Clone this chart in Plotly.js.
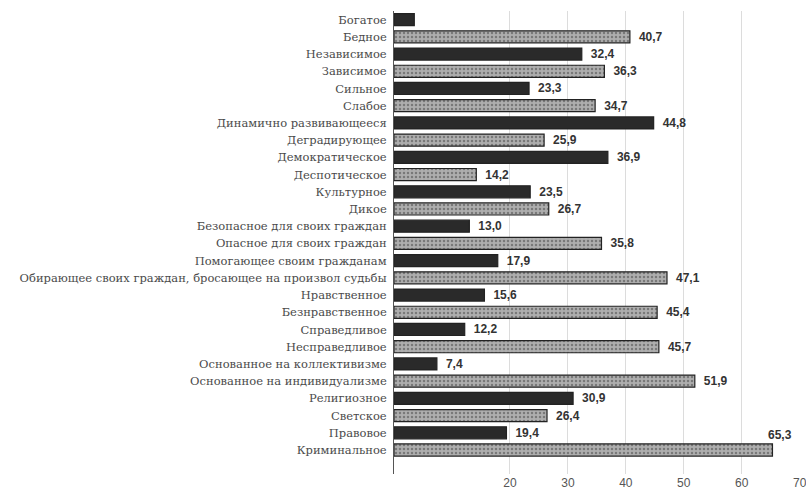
<!DOCTYPE html>
<html><head><meta charset="utf-8">
<script src="https://cdn.plot.ly/plotly-3.0.1.min.js"></script>
<style>html,body{margin:0;padding:0;background:#fff}#chart{width:806px;height:494px}</style>
</head><body><div id="chart"></div>
<script>
const categories = [
  "Богатое","Бедное","Независимое","Зависимое","Сильное","Слабое",
  "Динамично развивающееся","Деградирующее","Демократическое","Деспотическое",
  "Культурное","Дикое","Безопасное для своих граждан","Опасное для своих граждан",
  "Помогающее своим гражданам","Обирающее своих граждан, бросающее на произвол судьбы",
  "Нравственное","Безнравственное","Справедливое","Несправедливое",
  "Основанное на коллективизме","Основанное на индивидуализме",
  "Религиозное","Светское","Правовое","Криминальное"
];
const values = [3.5,40.7,32.4,36.3,23.3,34.7,44.8,25.9,36.9,14.2,23.5,26.7,13.0,35.8,17.9,47.1,15.6,45.4,12.2,45.7,7.4,51.9,30.9,26.4,19.4,65.3];
const valueLabels = ["","40,7","32,4","36,3","23,3","34,7","44,8","25,9","36,9","14,2","23,5","26,7","13,0","35,8","17,9","47,1","15,6","45,4","12,2","45,7","7,4","51,9","30,9","26,4","19,4",""];
const lastLabel = "65,3";
const tickVals = [20,30,40,50,60,70];

const colors = categories.map((c,i)=> i%2===0 ? '#2a2a2a' : '#aeaeae');
const shapes = categories.map((c,i)=> i%2===0 ? '' : '.');

const trace = {
  type:'bar', orientation:'h',
  y: categories, x: values,
  text: valueLabels, texttemplate:'\u2002%{text}', textposition:'outside', cliponaxis:false,
  constraintext:'none',
  textfont:{family:'Liberation Sans, Arial, sans-serif', size:12, color:'#333', weight:'bold'},
  marker:{color:colors, line:{color:'#222', width:1.2},
    pattern:{shape:shapes, fillmode:'overlay', fgcolor:'#dcdcdc', size:4, solidity:0.3}},
  hoverinfo:'none'
};

const layout = {
  width:806, height:494,
  margin:{l:394, r:6, t:11, b:20},
  paper_bgcolor:'#fff', plot_bgcolor:'#fff',
  bargap:0.3,
  showlegend:false,
  xaxis:{range:[0,70.05], tickvals:tickVals, showgrid:true, gridcolor:'#dcdcdc', gridwidth:1,
    zeroline:false, showline:false, ticks:'', ticklabeloverflow:'allow',
    tickfont:{family:'Liberation Sans, Arial, sans-serif', size:12, color:'#555'}},
  yaxis:{autorange:'reversed', type:'category', showline:true, linecolor:'#555', linewidth:1,
    ticks:'', ticklabelstandoff:4,
    tickfont:{family:'DejaVu Serif, serif', size:11.5, color:'#4a4a4a'}},
  annotations:[{x:values[values.length-1], y:categories[categories.length-1], xref:'x', yref:'y',
    text:lastLabel, showarrow:false, xanchor:'left', yanchor:'bottom', xshift:-6, yshift:6,
    font:{family:'Liberation Sans, Arial, sans-serif', size:12, color:'#333', weight:'bold'}}]
};
Plotly.newPlot('chart',[trace],layout,{staticPlot:true});
</script></body></html>
